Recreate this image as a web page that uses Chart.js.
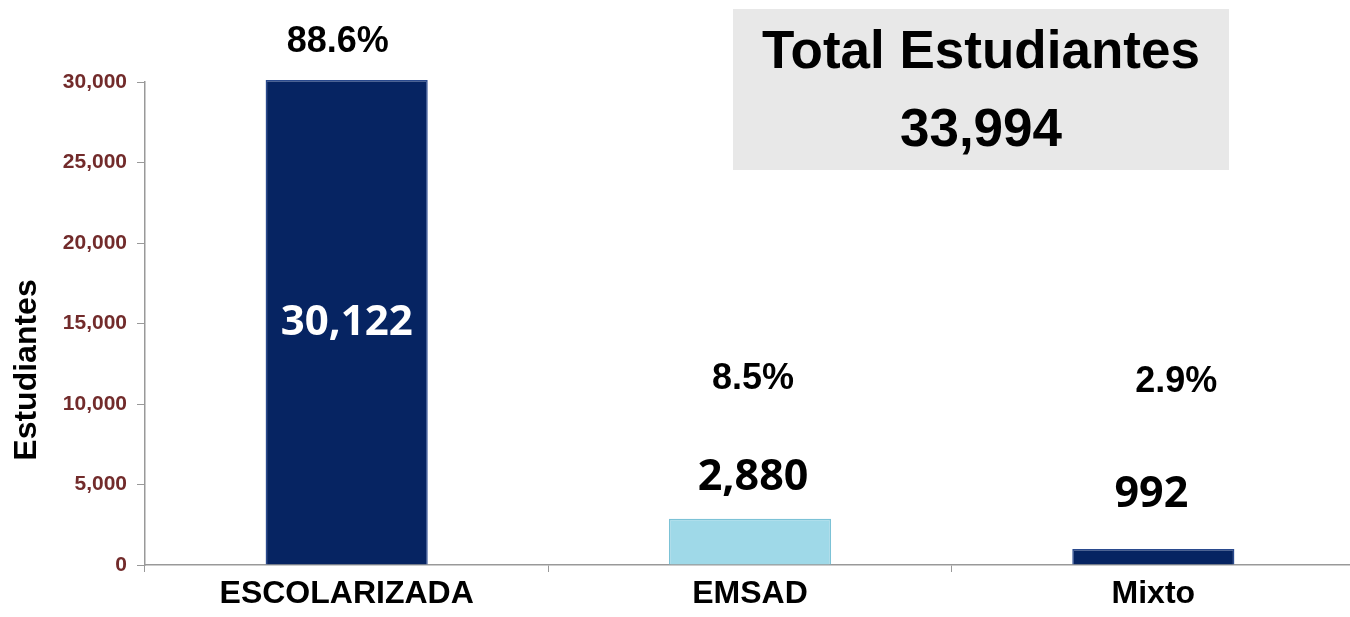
<!DOCTYPE html>
<html><head><meta charset="utf-8">
<script src="https://cdn.jsdelivr.net/npm/chart.js@4.4.1/dist/chart.umd.min.js"></script>
<style>html,body{margin:0;padding:0;background:#fff;overflow:hidden}#wrap{width:1350px;height:617px;position:relative;overflow:hidden}</style>
</head><body><div id="wrap"><canvas id="c" width="1355" height="617"></canvas></div>
<script>
const categories = ['ESCOLARIZADA', 'EMSAD', 'Mixto'];
const students = [30122, 2880, 992];
const percentLabels = ['88.6%', '8.5%', '2.9%'];
const valueLabels = ['30,122', '2,880', '992'];
const yTicks = [0, 5000, 10000, 15000, 20000, 25000, 30000];
const totalTitle = 'Total Estudiantes';
const totalValue = '33,994';
const yTitle = 'Estudiantes';

const barColors = ['#062462', '#9fd9e8', '#062462'];
const barBorders = ['#2a4a8e', '#7cc2d6', '#2a4a8e'];

const labelPlugin = {
  id: 'labels',
  afterDatasetsDraw(chart) {
    const ctx = chart.ctx;
    const meta = chart.getDatasetMeta(0);
    const y = chart.scales.y;
    ctx.save();
    // total box
    ctx.fillStyle = '#e8e8e8';
    ctx.fillRect(733, 9, 496, 161);
    ctx.fillStyle = '#000';
    ctx.textAlign = 'center';
    ctx.textBaseline = 'middle';
    ctx.font = 'bold 53px "Liberation Sans", Arial, sans-serif';
    ctx.fillText(totalTitle, 981, 53);
    ctx.fillText(totalValue, 981, 131);
    // y title
    ctx.save();
    ctx.translate(27, 370);
    ctx.rotate(-Math.PI / 2);
    ctx.font = 'bold 32px "Liberation Sans", Arial, sans-serif';
    ctx.fillText(yTitle, 0, 0);
    ctx.restore();
    // percentages & values
    const pctOffsets = [-38, -140, -167];
    const pctDx = [-9, 3, 23];
    const valOffsets = [null, -41, -54];
    const valDx = [0, 3, -2];
    meta.data.forEach((bar, i) => {
      ctx.fillStyle = '#000';
      ctx.font = 'bold 36px "Liberation Sans", Arial, sans-serif';
      ctx.fillText(percentLabels[i], bar.x + pctDx[i], bar.y + pctOffsets[i]);
      ctx.font = 'bold 43px "Open Sans", "Noto Sans", sans-serif';
      if (valOffsets[i] === null) {
        ctx.fillStyle = '#fff';
        ctx.font = 'bold 42px "Open Sans", "Noto Sans", sans-serif';
        ctx.fillText(valueLabels[i], bar.x, y.getPixelForValue(students[i] / 2) + 1);
      } else {
        ctx.fillStyle = '#000';
        ctx.fillText(valueLabels[i], bar.x + valDx[i], bar.y + valOffsets[i]);
      }
    });
    ctx.restore();
  }
};

new Chart(document.getElementById('c'), {
  type: 'bar',
  data: {
    labels: categories,
    datasets: [{
      data: students,
      backgroundColor: barColors,
      borderColor: barBorders,
      borderWidth: 1.5,
      barPercentage: 0.402,
      categoryPercentage: 1.0
    }]
  },
  options: {
    responsive: false,
    animation: false,
    devicePixelRatio: 1,
    layout: { padding: { top: 82, right: 0, left: 0, bottom: 0 } },
    plugins: { legend: { display: false }, tooltip: { enabled: false } },
    clip: false,
    scales: {
      x: {
        border: { color: '#999', width: 1.5 },
        grid: { display: true, drawOnChartArea: false, drawTicks: true, tickLength: 7, color: '#999', offset: true },
        ticks: { color: '#000', font: { family: '"Liberation Sans", Arial, sans-serif', size: 32, weight: 'bold' }, padding: 3 },
        afterFit(s) { s.height = 52; }
      },
      y: {
        min: 0, max: 30000,
        afterBuildTicks(s) { s.ticks = yTicks.map(v => ({ value: v })); },
        border: { color: '#999', width: 1.5 },
        grid: { display: true, drawOnChartArea: false, drawTicks: true, tickLength: 8, color: '#999' },
        ticks: {
          color: '#722b2b',
          font: { family: '"Liberation Sans", Arial, sans-serif', size: 21, weight: 'bold' },
          padding: 10,
          callback: v => v.toLocaleString('en-US')
        },
        afterFit(s) { s.width = 145; }
      }
    }
  },
  plugins: [labelPlugin]
});
</script></body></html>
